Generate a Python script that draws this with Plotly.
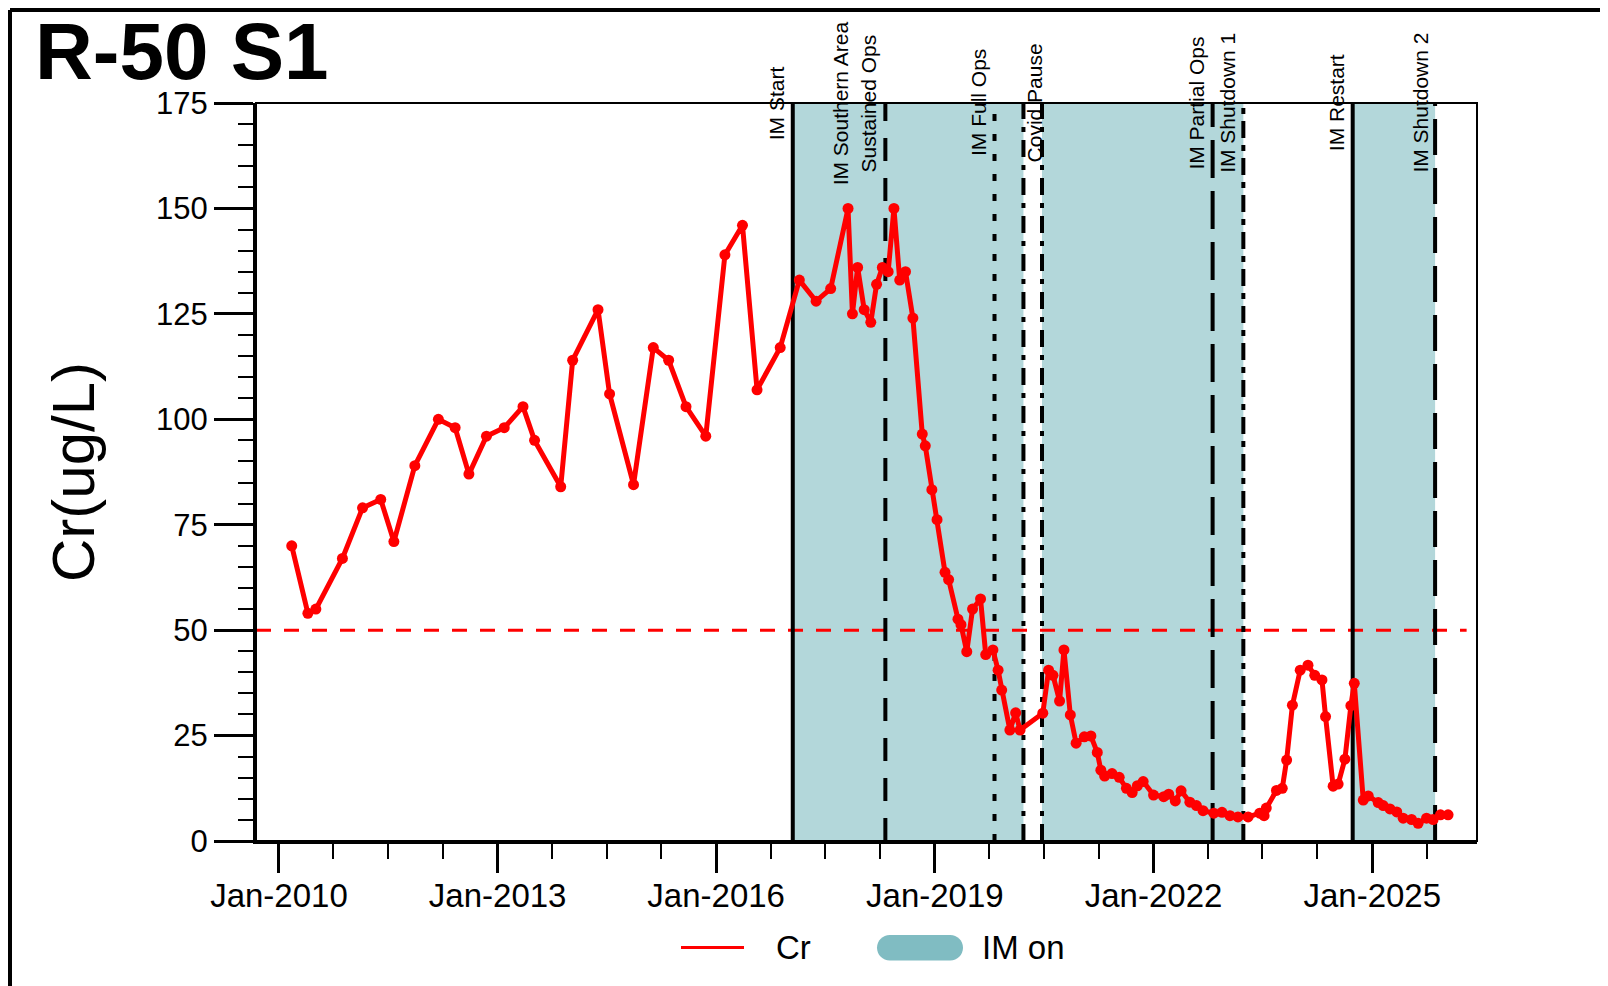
import plotly.graph_objects as go

# ---------------- data ----------------
dates = [
    "2010-03-06", "2010-05-26", "2010-07-05", "2010-11-15", "2011-02-24", "2011-05-26",
    "2011-07-31", "2011-11-13", "2012-03-10", "2012-06-02", "2012-08-10", "2012-11-06",
    "2013-02-03", "2013-05-08", "2013-07-05", "2013-11-13", "2014-01-12", "2014-05-19",
    "2014-07-16", "2014-11-13", "2015-02-20", "2015-05-08", "2015-08-03", "2015-11-10",
    "2016-02-14", "2016-05-12", "2016-07-24", "2016-11-17", "2017-02-21", "2017-05-16",
    "2017-07-28", "2017-10-23", "2017-11-14", "2017-12-10", "2018-01-12", "2018-02-14",
    "2018-03-15", "2018-04-13", "2018-05-12", "2018-06-10", "2018-07-09", "2018-08-07",
    "2018-09-13", "2018-10-30", "2018-11-14", "2018-12-17", "2019-01-12", "2019-02-21",
    "2019-03-11", "2019-04-27", "2019-05-12", "2019-06-10", "2019-07-09", "2019-08-18",
    "2019-09-13", "2019-10-19", "2019-11-14", "2019-12-02", "2020-01-12", "2020-02-10",
    "2020-03-03", "2020-06-25", "2020-07-24", "2020-08-15", "2020-09-17", "2020-10-09",
    "2020-11-10", "2020-12-09", "2021-01-19", "2021-02-21", "2021-03-25", "2021-04-12",
    "2021-05-01", "2021-06-07", "2021-07-13", "2021-08-18", "2021-09-16", "2021-10-12",
    "2021-11-10", "2022-01-01", "2022-02-21", "2022-03-18", "2022-04-20", "2022-05-19",
    "2022-07-02", "2022-08-04", "2022-09-06", "2022-10-30", "2022-12-10", "2023-01-19",
    "2023-02-28", "2023-04-20", "2023-06-17", "2023-07-09", "2023-07-20", "2023-09-09",
    "2023-10-08", "2023-10-30", "2023-11-28", "2024-01-06", "2024-02-14", "2024-03-19",
    "2024-04-24", "2024-05-12", "2024-06-19", "2024-07-14", "2024-08-17", "2024-09-16",
    "2024-10-03", "2024-11-17", "2024-12-12", "2025-01-31", "2025-02-25", "2025-03-31",
    "2025-05-04", "2025-06-05", "2025-07-17", "2025-08-19", "2025-09-30", "2025-11-02",
    "2025-12-09", "2026-01-16",
]
cr = [
    70, 54, 55, 67, 79, 81,
    71, 89, 100, 98, 87, 96,
    98, 103, 95, 84, 114, 126,
    106, 84.5, 117, 114, 103, 96,
    139, 146, 107, 117, 133, 128,
    131, 150, 125, 136, 126, 123,
    132, 136, 135, 150, 133, 135,
    124, 96.5, 93.7, 83.3, 76.2, 63.7,
    62, 52.6, 51.3, 44.9, 55, 57.4,
    44.2, 45.3, 40.5, 35.8, 26.3, 30.4,
    26.3, 30.3, 40.5, 39.3, 33.2, 45.3,
    29.9, 23.2, 24.7, 24.9, 21, 16.8,
    15.4, 16, 15.1, 12.5, 11.5, 13.1,
    14.1, 10.9, 10.5, 11.1, 9.5, 11.9,
    9.2, 8.4, 7.2, 6.6, 6.8, 6.0,
    5.7, 5.7, 6.6, 6.0, 7.8, 12.0,
    12.5, 19.2, 32.2, 40.5, 41.7, 39.3,
    38.2, 29.5, 13.0, 13.5, 19.4, 32.1,
    37.4, 9.7, 10.7, 9.1, 8.4, 7.6,
    6.9, 5.4, 5.1, 4.2, 5.4, 5.1,
    6.2, 6.2,
]

event_labels = ["IM Start", "IM Southern Area<br>Sustained Ops", "IM Full Ops",
                "Covid Pause", "", "IM Partial Ops", "IM Shutdown 1",
                "IM Restart", "IM Shutdown 2"]
event_dates = ["2017-01-19", "2018-04-28", "2019-10-27", "2020-03-20", "2020-06-21",
               "2022-10-24", "2023-03-27", "2024-09-25", "2025-11-12"]
event_dash = ["solid", "23px,17px", "7px,13px", "17px,8px,5px,8px", "17px,8px,5px,8px",
              "38px,13px", "17px,7px,6px,7px", "solid", "36px,13px"]
event_shift = [-16.5, -31, -16.5, 11, -7, -17, -16.5, -16.5, -15.5]

im_on_start = ["2017-01-19", "2020-06-21", "2024-09-25"]
im_on_end = ["2020-03-20", "2023-03-27", "2025-11-12"]

threshold = 50
threshold_end = "2026-04-19"
x_range = ["2009-09-08", "2026-06-10"]
y_range = [0, 175]

# ---------------- layout constants ----------------
W, H = 1608, 986
OFF = 8  # page body margin
L, R, T, B = 256 - OFF, 1477 - OFF, 103 - OFF, 841 - OFF
FONT = "Arial, Liberation Sans, Helvetica, sans-serif"
FILL = "rgba(128,188,194,0.6)"
PATCH = "#80BCC2"


def px(x, y):
    """screen pixel (reference coords) -> paper coords"""
    x -= OFF
    y -= OFF
    return (x - L) / (R - L), (B - y) / (B - T)


fig = go.Figure()

fig.add_trace(go.Scatter(
    x=dates, y=cr, mode="lines+markers", name="Cr",
    line=dict(color="#FF0000", width=5),
    marker=dict(color="#FF0000", size=11),
    showlegend=False,
))

shapes = []
for s, e in zip(im_on_start, im_on_end):
    shapes.append(dict(type="rect", xref="x", yref="y", x0=s, x1=e, y0=y_range[0], y1=y_range[1],
                       fillcolor=FILL, line=dict(width=0), layer="below"))
shapes.append(dict(type="line", xref="x", yref="y", x0=x_range[0], x1=threshold_end,
                   y0=threshold, y1=threshold, line=dict(color="#FF0000", width=3, dash="15px,13px"),
                   layer="below"))
for d, ds in zip(event_dates, event_dash):
    shapes.append(dict(type="line", xref="x", yref="y", x0=d, x1=d, y0=y_range[0], y1=y_range[1],
                       line=dict(color="black", width=4, dash=ds), layer="below"))
shapes.append(dict(type="rect", xref="paper", yref="paper", x0=0, x1=1, y0=0, y1=1,
                   line=dict(color="black", width=2), layer="above"))
ax0, ay0 = px(10, 10)
ax1, _ = px(1600, 10)
_, ay1 = px(10, 1000)
shapes.append(dict(type="line", xref="paper", yref="paper", x0=ax0, x1=ax1, y0=ay0, y1=ay0,
                   line=dict(color="black", width=4)))
shapes.append(dict(type="line", xref="paper", yref="paper", x0=ax0, x1=ax0, y0=ay0, y1=ay1,
                   line=dict(color="black", width=4)))

lx0, ly = px(681, 947.5)
lx1, _ = px(744, 947.5)
shapes.append(dict(type="line", xref="paper", yref="paper", x0=lx0, x1=lx1, y0=ly, y1=ly,
                   line=dict(color="#FF0000", width=3)))
pl, pr, pt, pb = 877, 963, 935, 960.5
rr = (pb - pt) / 2
k = 0.5523 * rr


def P(x, y):
    a, b = px(x, y)
    return f"{a:.6f},{b:.6f}"


path = (f"M {P(pl + rr, pt)} L {P(pr - rr, pt)} "
        f"C {P(pr - rr + k, pt)} {P(pr, pt + rr - k)} {P(pr, pt + rr)} "
        f"C {P(pr, pb - rr + k)} {P(pr - rr + k, pb)} {P(pr - rr, pb)} "
        f"L {P(pl + rr, pb)} "
        f"C {P(pl + rr - k, pb)} {P(pl, pb - rr + k)} {P(pl, pb - rr)} "
        f"C {P(pl, pt + rr - k)} {P(pl + rr - k, pt)} {P(pl + rr, pt)} Z")
shapes.append(dict(type="path", xref="paper", yref="paper", path=path,
                   fillcolor=PATCH, line=dict(width=0)))

annotations = []
for lab, d, sh in zip(event_labels, event_dates, event_shift):
    if not lab:
        continue
    annotations.append(dict(text=lab, x=d, xref="x", y=1, yref="paper", xanchor="center",
                            yanchor="middle", xshift=sh, textangle=-90, showarrow=False,
                            font=dict(family=FONT, size=21, color="black"), align="center"))
tx, ty = px(33, 51)
annotations.append(dict(text="<b>R-50 S1</b>", x=tx, y=ty, xref="paper", yref="paper",
                        xanchor="left", yanchor="middle", showarrow=False, height=64,
                        valign="middle",
                        font=dict(family=FONT, size=80, color="black")))
yx, yy = px(73, 472)
annotations.append(dict(text="Cr(ug/L)", x=yx, y=yy, xref="paper", yref="paper",
                        xanchor="center", yanchor="middle", textangle=-90, showarrow=False,
                        font=dict(family=FONT, size=60, color="black")))
cx, cy = px(774, 947)
annotations.append(dict(text="Cr", x=cx, y=cy, xref="paper", yref="paper", xanchor="left",
                        yanchor="middle", showarrow=False, font=dict(family=FONT, size=33, color="black")))
ix, iy = px(980, 947)
annotations.append(dict(text="IM on", x=ix, y=iy, xref="paper", yref="paper", xanchor="left",
                        yanchor="middle", showarrow=False, font=dict(family=FONT, size=33, color="black")))

fig.update_layout(
    width=W, height=H,
    margin=dict(l=L, r=W - R, t=T, b=H - B, pad=0),
    paper_bgcolor="white", plot_bgcolor="white",
    shapes=shapes, annotations=annotations,
    showlegend=False,
    font=dict(family=FONT, color="black"),
)
fig.update_xaxes(
    type="date", range=x_range, showgrid=False, zeroline=False,
    showline=True, linecolor="black", linewidth=3,
    tick0="2010-01-01", dtick="M36", tickformat="%b-%Y",
    ticks="outside", ticklen=29, tickwidth=2.5, tickcolor="black",
    ticklabelstandoff=-6,
    tickfont=dict(family=FONT, size=33, color="black"),
    minor=dict(tick0="2010-01-01", dtick="M9", ticks="outside", ticklen=15,
               tickwidth=2, tickcolor="black", showgrid=False),
)
fig.update_yaxes(
    range=y_range, showgrid=False, zeroline=False,
    showline=True, linecolor="black", linewidth=3,
    tick0=0, dtick=25, ticks="outside", ticklen=39, tickwidth=2.5, tickcolor="black",
    tickfont=dict(family=FONT, size=31, color="black"),
    minor=dict(dtick=5, ticks="outside", ticklen=15, tickwidth=2, tickcolor="black", showgrid=False),
)

fig.write_html("out.html")
